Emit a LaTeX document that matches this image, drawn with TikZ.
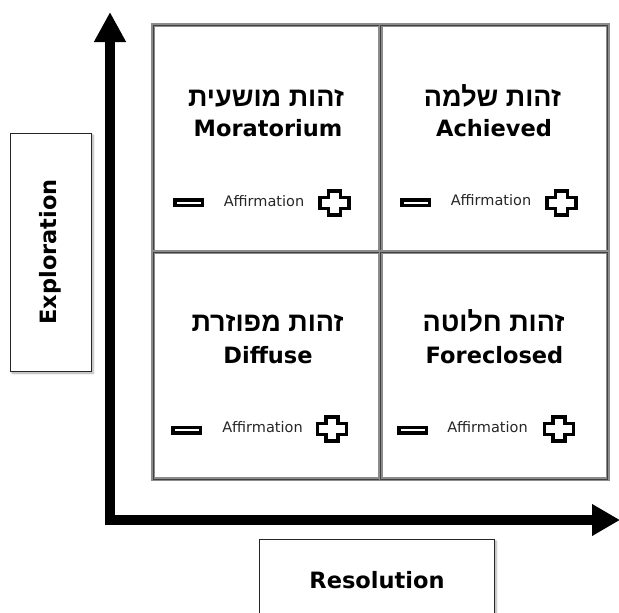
\documentclass[tikz,border=0pt]{standalone}
\usepackage{fontspec}
\setmainfont{DejaVu Sans}
\newfontfamily\hebfont[Script=Hebrew]{Liberation Sans}
\TeXXeTstate=1
\usetikzlibrary{arrows.meta,shadows.blur}
\begin{document}
\begin{tikzpicture}[x=1pt,y=-1pt,
  quad/.style={draw=black!75,line width=1pt,minimum width=227pt,minimum height=227pt,
    preaction={draw=black!45,line width=4pt},inner sep=0pt},
  labelbox/.style={draw=black!85,line width=0.8pt,fill=white,inner sep=0pt,
    blur shadow={shadow xshift=2pt,shadow yshift=-2pt,shadow blur steps=6,shadow opacity=35}},
  hebtext/.style={anchor=base,inner sep=0pt,font=\hebfont\bfseries\fontsize{27}{31}\selectfont},
  engtext/.style={anchor=base,inner sep=0pt,font=\bfseries\fontsize{22.5}{27}\selectfont},
  afftext/.style={anchor=base,inner sep=0pt,text=black!85,font=\fontsize{14.5}{17}\selectfont},
  axislabel/.style={inner sep=0pt,font=\bfseries\fontsize{22.5}{27}\selectfont},
  minusbox/.style={draw=black,line width=3.5pt,minimum width=27.5pt,minimum height=5.5pt,inner sep=0pt,fill=white},
  axis/.style={line width=10pt,line join=miter,{Triangle[length=30pt,width=30pt]}-{Triangle[length=28pt,width=30pt]}},
  plussign/.pic={\draw[line width=3.5pt,line join=miter,fill=white]
      (-6,-12) -- (6,-12) -- (6,-5.5) -- (14.5,-5.5) -- (14.5,5.5) -- (6,5.5)
      -- (6,12) -- (-6,12) -- (-6,5.5) -- (-14.5,5.5) -- (-14.5,-5.5) -- (-6,-5.5) -- cycle;}
]
\useasboundingbox (0,0) rectangle (619,613);

% axes
\coordinate (ytop) at (110,12);
\coordinate (corner) at (110,520);
\coordinate (xend) at (620,520);
\draw[axis] (ytop) -- (corner) -- (xend);

% axis label boxes
\node[labelbox,minimum width=81pt,minimum height=238pt] (explbox) at (50.5,252) {};
\node[axislabel,rotate=90] (expl) at (explbox.center) {Exploration};
\node[labelbox,minimum width=235pt,minimum height=110pt] (resbox) at (376.5,594) {};
\node[axislabel] (res) at (377,580) {Resolution};

% quadrants
\node[quad] (q1) at (266.5,138.5) {};
\node[quad] (q2) at (494,138.5) {};
\node[quad] (q3) at (266.5,365.5) {};
\node[quad] (q4) at (494,365.5) {};

% Q1 Moratorium
\node[hebtext] (h1) at (266,106.5) {\beginR זהות מושעית\endR};
\node[engtext] (e1) at (268,136.5) {Moratorium};
\node[afftext] (a1) at (264,206) {Affirmation};
\node[minusbox] (m1) at (188.5,202.5) {};
\pic (p1) at (334.5,203) {plussign};

% Q2 Achieved
\node[hebtext] (h2) at (492.5,106.5) {\beginR זהות שלמה\endR};
\node[engtext] (e2) at (494,136.5) {Achieved};
\node[afftext] (a2) at (491,205.7) {Affirmation};
\node[minusbox] (m2) at (415.5,202.5) {};
\pic (p2) at (561.5,203) {plussign};

% Q3 Diffuse
\node[hebtext] (h3) at (267.5,331.7) {\beginR זהות מפוזרת\endR};
\node[engtext] (e3) at (268,363.3) {Diffuse};
\node[afftext] (a3) at (262.5,432.7) {Affirmation};
\node[minusbox] (m3) at (186.5,430) {};
\pic (p3) at (332,429) {plussign};

% Q4 Foreclosed
\node[hebtext] (h4) at (493.5,331.7) {\beginR זהות חלוטה\endR};
\node[engtext] (e4) at (494.5,363.3) {Foreclosed};
\node[afftext] (a4) at (487.5,432.7) {Affirmation};
\node[minusbox] (m4) at (412.5,430) {};
\pic (p4) at (559,429) {plussign};
\end{tikzpicture}
\end{document}
